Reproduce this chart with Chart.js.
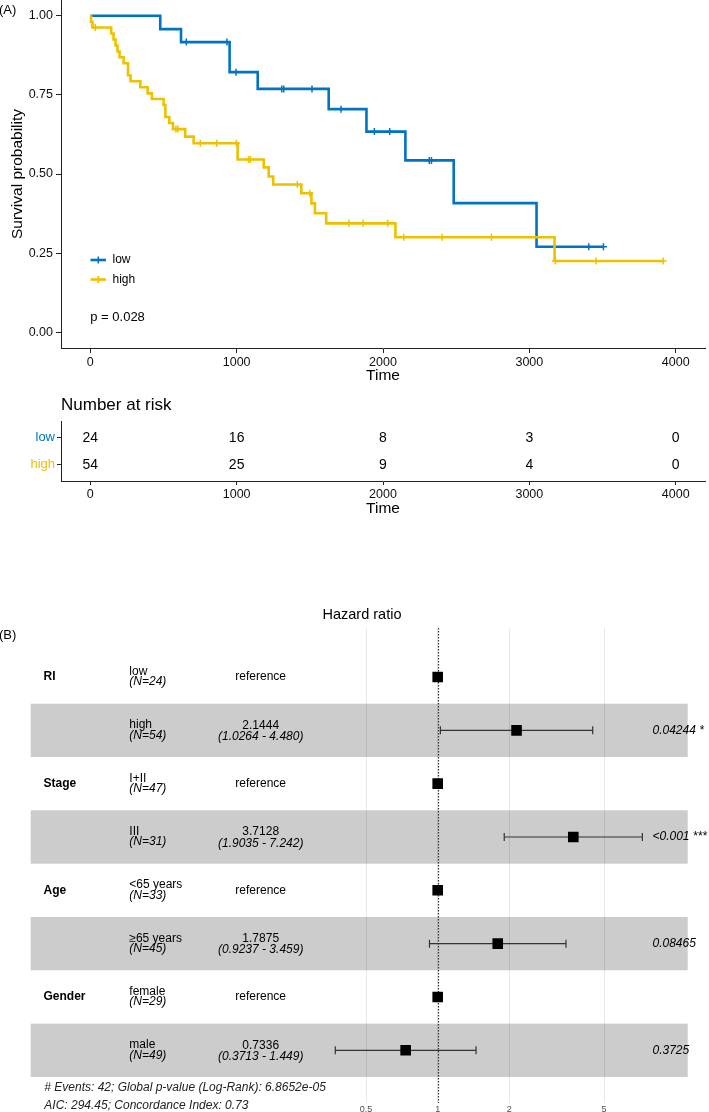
<!DOCTYPE html>
<html>
<head>
<meta charset="utf-8">
<script src="https://cdn.jsdelivr.net/npm/chart.js@4.4.0/dist/chart.umd.min.js"></script>
<style>
  html, body { margin: 0; padding: 0; background: #fff; }
  #wrap { position: relative; width: 709px; height: 1112px; overflow: hidden; }
  canvas { position: absolute; left: 0; }
</style>
</head>
<body>
<div id="wrap">
  <canvas id="kmChart" width="709" height="385" style="top:0"></canvas>
  <canvas id="riskChart" width="709" height="140" style="top:385px"></canvas>
  <canvas id="forestChart" width="709" height="512" style="top:600px"></canvas>
</div>
<script>
// ---- data ----
const kmTicks = [0, 1000, 2000, 3000, 4000];
const kmYTicks = [0, 0.25, 0.5, 0.75, 1];
const kmYLabels = ['0.00', '0.25', '0.50', '0.75', '1.00'];

// step curves: time of each drop and survival after it
const lowTimes = [0, 478, 620, 952, 1144, 1629, 1887, 2153, 2483, 3049, 3506];
const lowSurv = [1, 0.958, 0.917, 0.822, 0.769, 0.705, 0.634, 0.543, 0.408, 0.27, 0.27];
const lowCensor = [656, 934, 996, 1308, 1322, 1515, 1713, 1941, 2046, 2316, 2331, 3406, 3506];

const highTimes = [0, 5, 15, 143, 159, 173, 186, 200, 228, 258, 275, 342, 392, 421, 501, 513, 540, 565, 649, 706,
  1007, 1185, 1219, 1250, 1442, 1511, 1535, 1612, 2085, 3172, 3914];
const highSurv = [1, 0.981, 0.963, 0.944, 0.925, 0.906, 0.887, 0.869, 0.850, 0.812, 0.793, 0.774, 0.755, 0.737, 0.718,
  0.680, 0.661, 0.642, 0.618, 0.597, 0.546, 0.521, 0.492, 0.467, 0.439, 0.407, 0.376, 0.344, 0.300, 0.225, 0.225];
const highCensor = [34, 585, 598, 752, 864, 998, 1082, 1094, 1415, 1500, 1768, 1864, 2032, 2142, 2404, 2741, 3178, 3456, 3914];

const groups = ['low', 'high'];
const pValueText = 'p = 0.028';

const riskTimes = [0, 1000, 2000, 3000, 4000];
const riskLow = [24, 16, 8, 3, 0];
const riskHigh = [54, 25, 9, 4, 0];

const forestVars = ['RI', '', 'Stage', '', 'Age', '', 'Gender', ''];
const forestLevels = ['low', 'high', 'I+II', 'III', '<65 years', '\u226565 years', 'female', 'male'];
const forestN = [24, 54, 47, 31, 33, 45, 29, 49];
const forestHR = [1, 2.1444, 1, 3.7128, 1, 1.7875, 1, 0.7336];
const forestLo = [null, 1.0264, null, 1.9035, null, 0.9237, null, 0.3713];
const forestHi = [null, 4.480, null, 7.242, null, 3.459, null, 1.449];
const forestHRLabels = ['reference', '2.1444', 'reference', '3.7128', 'reference', '1.7875', 'reference', '0.7336'];
const forestCILabels = ['', '(1.0264 - 4.480)', '', '(1.9035 - 7.242)', '', '(0.9237 - 3.459)', '', '(0.3713 - 1.449)'];
const forestP = ['', '0.04244 *', '', '<0.001 ***', '', '0.08465', '', '0.3725'];
const forestTicks = [0.5, 1, 2, 5];
const forestTickLabels = ['0.5', '1', '2', '5'];
const forestFooter = ['# Events: 42; Global p-value (Log-Rank): 6.8652e-05', 'AIC: 294.45; Concordance Index: 0.73'];

// ---- styling ----
const FONT = '"Liberation Sans", Arial, Helvetica, sans-serif';
const BLUE = '#0073C2';
const YELLOW = '#EFC000';
Chart.defaults.font.family = FONT;
Chart.defaults.color = '#111';

function txt(c, s, x, y, size, opts) {
  opts = opts || {};
  c.font = (opts.style || '') + ' ' + (opts.weight || '') + ' ' + size + 'px ' + FONT;
  c.fillStyle = opts.color || '#000';
  c.textAlign = opts.align || 'left';
  c.textBaseline = 'middle';
  c.fillText(s, x, y);
}

function stepPoints(times, surv) {
  return times.map((t, i) => ({ x: t, y: surv[i] }));
}

// survival level of a curve at time t (to place censor ticks on it)
function survAt(times, surv, t) {
  let s = surv[0];
  for (let i = 0; i < times.length; i++) if (times[i] <= t) s = surv[i];
  return s;
}

function fixedAxis(size, horizontal) {
  return (s) => {
    if (horizontal) { s.height = size; s.paddingLeft = 0; s.paddingRight = 0; }
    else { s.width = size; s.paddingTop = 0; s.paddingBottom = 0; }
  };
}

const baseOpts = {
  responsive: false,
  animation: false,
  devicePixelRatio: 1,
  events: [],
  plugins: { legend: { display: false }, tooltip: { enabled: false } }
};

// ---- (A) Kaplan-Meier ----
const kmText = {
  id: 'kmText',
  afterDraw(chart) {
    const c = chart.ctx;
    const a = chart.chartArea;
    txt(c, '(A)', -1, 10, 13);
    c.save();
    c.translate(18, (a.top + a.bottom) / 2);
    c.rotate(-Math.PI / 2);
    txt(c, 'Survival probability', 0, 0, 15.5, { align: 'center' });
    c.restore();
    txt(c, 'Time', (a.left + a.right) / 2, 376, 15.5, { align: 'center' });
    // legend
    [[BLUE, 260], [YELLOW, 279.5]].forEach((g, i) => {
      c.strokeStyle = g[0];
      c.lineWidth = 2.6;
      c.beginPath(); c.moveTo(90.5, g[1]); c.lineTo(106, g[1]); c.stroke();
      c.lineWidth = 1.6;
      c.beginPath(); c.moveTo(98.3, g[1] - 3.5); c.lineTo(98.3, g[1] + 3.5); c.stroke();
      txt(c, groups[i], 112.5, g[1], 12);
    });
    const x = chart.scales.x, y = chart.scales.y;
    txt(c, pValueText, x.getPixelForValue(0), y.getPixelForValue(0.05) + 1, 13);
  }
};

new Chart(document.getElementById('kmChart'), {
  type: 'scatter',
  data: {
    datasets: [
      { data: stepPoints(highTimes, highSurv), showLine: true, stepped: true, borderColor: YELLOW, borderWidth: 2.6, pointRadius: 0, borderJoinStyle: 'miter' },
      { data: highCensor.map(t => ({ x: t, y: survAt(highTimes, highSurv, t) })), pointStyle: 'cross', pointRadius: 3.5, borderColor: YELLOW, borderWidth: 1.5 },
      { data: stepPoints(lowTimes, lowSurv), showLine: true, stepped: true, borderColor: BLUE, borderWidth: 2.6, pointRadius: 0, borderJoinStyle: 'miter' },
      { data: lowCensor.map(t => ({ x: t, y: survAt(lowTimes, lowSurv, t) })), pointStyle: 'cross', pointRadius: 3.5, borderColor: BLUE, borderWidth: 1.5 }
    ]
  },
  options: {
    ...baseOpts,
    layout: { autoPadding: false, padding: { left: 0, right: 4, top: 0, bottom: 0 } },
    scales: {
      x: {
        type: 'linear', min: -200, max: 4200,
        afterBuildTicks: s => { s.ticks = kmTicks.map(v => ({ value: v })); },
        afterFit: fixedAxis(37, true),
        grid: { drawOnChartArea: false, tickLength: 5, color: '#222' },
        border: { color: '#222', width: 1 },
        ticks: { color: '#111', font: { size: 12.5 }, padding: 2, maxRotation: 0, autoSkip: false, callback: v => String(v) }
      },
      y: {
        min: -0.05, max: 1.05,
        afterBuildTicks: s => { s.ticks = kmYTicks.map(v => ({ value: v })); },
        afterFit: fixedAxis(61, false),
        grid: { drawOnChartArea: false, tickLength: 5, color: '#222' },
        border: { color: '#222', width: 1 },
        ticks: { color: '#111', font: { size: 12.5 }, padding: 3, callback: (v, i) => kmYLabels[i] }
      }
    }
  },
  plugins: [kmText]
});

// ---- risk table ----
const riskText = {
  id: 'riskText',
  afterDatasetsDraw(chart) {
    const c = chart.ctx;
    const rows = [riskLow, riskHigh];
    chart.data.datasets.forEach((ds, di) => {
      chart.getDatasetMeta(di).data.forEach((pt, i) => {
        txt(c, String(rows[di][i]), pt.x, pt.y, 14, { align: 'center' });
      });
    });
  },
  afterDraw(chart) {
    const c = chart.ctx;
    const a = chart.chartArea;
    txt(c, 'Number at risk', a.left, 20, 17);
    txt(c, 'Time', (a.left + a.right) / 2, 124, 15.5, { align: 'center' });
  }
};

new Chart(document.getElementById('riskChart'), {
  type: 'scatter',
  data: {
    datasets: [
      { data: riskTimes.map(t => ({ x: t, y: 2 })), pointRadius: 0 },
      { data: riskTimes.map(t => ({ x: t, y: 1 })), pointRadius: 0 }
    ]
  },
  options: {
    ...baseOpts,
    layout: { autoPadding: false, padding: { left: 0, right: 4, top: 36.7, bottom: 0 } },
    scales: {
      x: {
        type: 'linear', min: -200, max: 4200,
        afterBuildTicks: s => { s.ticks = kmTicks.map(v => ({ value: v })); },
        afterFit: fixedAxis(44, true),
        grid: { drawOnChartArea: false, tickLength: 4, color: '#222' },
        border: { color: '#222', width: 1 },
        ticks: { color: '#111', font: { size: 12.5 }, padding: 2, maxRotation: 0, autoSkip: false, callback: v => String(v) }
      },
      y: {
        min: 0.4, max: 2.6,
        afterBuildTicks: s => { s.ticks = [{ value: 1 }, { value: 2 }]; },
        afterFit: fixedAxis(61, false),
        grid: { drawOnChartArea: false, tickLength: 4, color: '#222' },
        border: { color: '#222', width: 1 },
        ticks: {
          font: { size: 13 }, padding: 2,
          color: ctx => (ctx.tick && ctx.tick.value === 2 ? BLUE : YELLOW),
          callback: v => (v === 2 ? groups[0] : groups[1])
        }
      }
    }
  },
  plugins: [riskText]
});

// ---- (B) forest plot ----
const forestDraw = {
  id: 'forestDraw',
  beforeDraw(chart) {
    // alternating grey bands
    const c = chart.ctx, a = chart.chartArea, y = chart.scales.y;
    c.fillStyle = '#cccccc';
    forestHR.forEach((hr, i) => {
      if (i % 2 === 1) {
        const t = y.getPixelForValue(i + 0.5), b = y.getPixelForValue(i + 1.5);
        c.fillRect(a.left, t, a.right - a.left, b - t);
      }
    });
  },
  beforeDatasetsDraw(chart) {
    const c = chart.ctx, a = chart.chartArea, x = chart.scales.x, y = chart.scales.y;
    // reference line at HR = 1
    c.save();
    c.strokeStyle = '#333';
    c.lineWidth = 1.2;
    c.setLineDash([1.5, 1.5]);
    c.beginPath();
    c.moveTo(Math.round(x.getPixelForValue(1)) + 0.5, a.top);
    c.lineTo(Math.round(x.getPixelForValue(1)) + 0.5, a.bottom);
    c.stroke();
    c.restore();
    // confidence intervals
    c.strokeStyle = '#333';
    c.lineWidth = 1.2;
    forestLo.forEach((lo, i) => {
      if (lo === null) return;
      const py = y.getPixelForValue(i + 1);
      const x0 = x.getPixelForValue(lo), x1 = x.getPixelForValue(forestHi[i]);
      c.beginPath();
      c.moveTo(x0, py); c.lineTo(x1, py);
      c.moveTo(x0, py - 4); c.lineTo(x0, py + 4);
      c.moveTo(x1, py - 4); c.lineTo(x1, py + 4);
      c.stroke();
    });
  },
  afterDraw(chart) {
    const c = chart.ctx, y = chart.scales.y;
    txt(c, 'Hazard ratio', 362, 15, 14.5, { align: 'center' });
    txt(c, '(B)', -1, 35, 13);
    forestHR.forEach((hr, i) => {
      const py = y.getPixelForValue(i + 1);
      if (forestVars[i]) txt(c, forestVars[i], 43.5, py, 12, { weight: 'bold' });
      txt(c, forestLevels[i], 129.3, py - 5.3, 12);
      txt(c, '(N=' + forestN[i] + ')', 129.3, py + 5, 12, { style: 'italic' });
      if (forestCILabels[i]) {
        txt(c, forestHRLabels[i], 260.7, py - 5, 12, { align: 'center' });
        txt(c, forestCILabels[i], 260.7, py + 6.3, 12, { align: 'center', style: 'italic' });
      } else {
        txt(c, forestHRLabels[i], 260.7, py, 12, { align: 'center' });
      }
      if (forestP[i]) txt(c, forestP[i], 652.5, py, 12, { style: 'italic' });
    });
    txt(c, forestFooter[0], 44.3, 487.7, 12, { style: 'italic', color: '#222' });
    txt(c, forestFooter[1], 44.3, 505.7, 12, { style: 'italic', color: '#222' });
  }
};

new Chart(document.getElementById('forestChart'), {
  type: 'scatter',
  data: {
    datasets: [{
      data: forestHR.map((hr, i) => ({ x: hr, y: i + 1 })),
      pointStyle: 'rect', pointRadius: 7.5, backgroundColor: '#000', borderWidth: 0
    }]
  },
  options: {
    ...baseOpts,
    layout: { autoPadding: false, padding: { left: 30.7, right: 21.3, top: 28, bottom: 0 } },
    scales: {
      x: {
        type: 'logarithmic', min: 0.0195, max: 11.23, bounds: 'data',
        afterBuildTicks: s => { s.ticks = forestTicks.map(v => ({ value: v })); },
        afterFit: fixedAxis(9, true),
        grid: { color: 'rgba(0,0,0,0.09)', drawTicks: false, lineWidth: 1 },
        border: { display: false },
        ticks: { color: '#4d4d4d', font: { size: 9 }, padding: 1, maxRotation: 0, autoSkip: false,
          callback: (v, i) => forestTickLabels[i] }
      },
      y: { display: false, reverse: true, min: 0.0812, max: 8.988 }
    }
  },
  plugins: [forestDraw]
});
</script>
</body>
</html>
